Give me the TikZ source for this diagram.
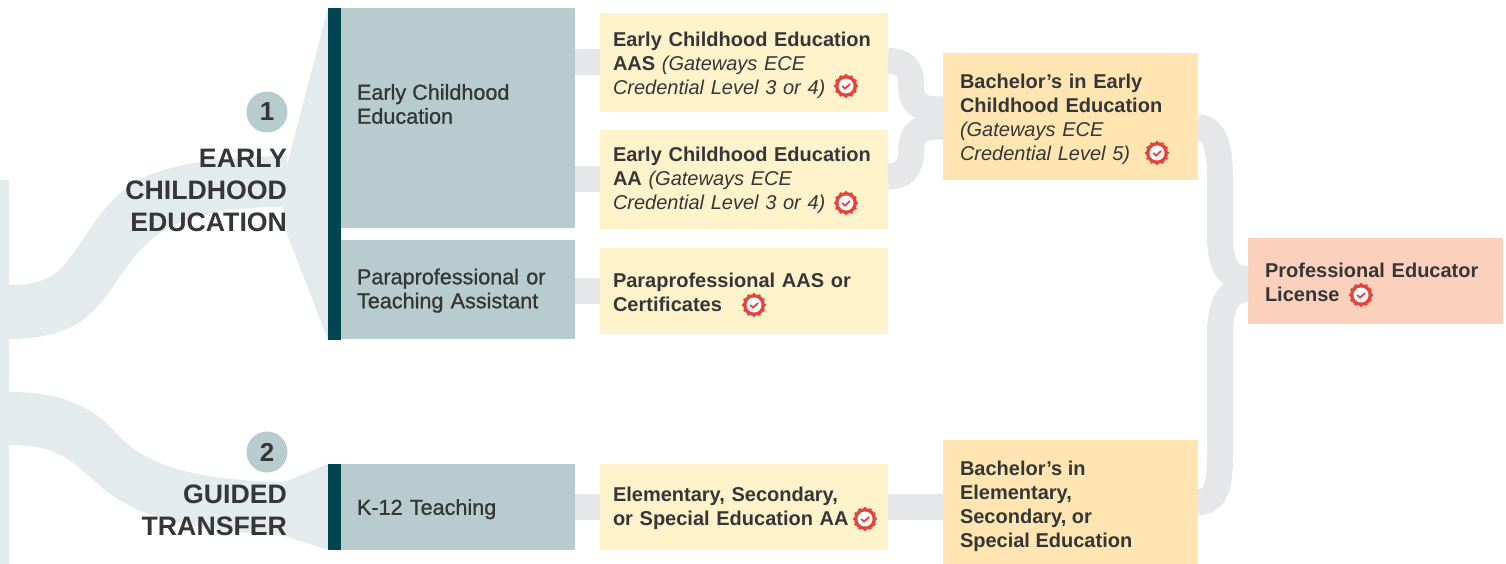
\documentclass[tikz,border=0pt]{standalone}
\usepackage{fontspec}
\setmainfont{Liberation Sans}
\newfontfamily\medfont[FakeBold=1.0]{Liberation Sans}
\newcommand{\upstrut}[1]{\rule{0pt}{#1}}
\definecolor{tealbox}{HTML}{B8CCD0}
\definecolor{tealbar}{HTML}{004550}
\definecolor{bandcol}{HTML}{E3EBED}
\definecolor{linkcol}{HTML}{E6E7E9}
\definecolor{aabox}{HTML}{FFF3CC}
\definecolor{babox}{HTML}{FEE5B2}
\definecolor{licbox}{HTML}{FBD0BC}
\definecolor{inkcol}{HTML}{353638}
\definecolor{badgecol}{HTML}{E5433A}
\tikzset{
    badge/.pic={
        \fill[badgecol] (0,0) circle (11);
        \foreach \a in {0,30,...,330} {\fill[badgecol] (\a:11) circle (1.4);}
        \fill[white] (0,0) circle (7.5);
        \draw[badgecol, line width=1.8pt] (-3.8,0) -- (-1,2.6) -- (4,-2);
    }
}
\begin{document}
\begin{tikzpicture}[
    x=1pt, y=-1pt,
    every node/.style={inner sep=0pt, outer sep=0pt, text=inkcol},
    bar/.style={anchor=north west, fill=tealbar, minimum width=13pt},
    path box/.style={anchor=north west, fill=tealbox, minimum width=234pt, text width=202pt, align=left,
        font=\fontsize{21.6}{24}\selectfont\medfont},
    aa box/.style={anchor=north west, fill=aabox, minimum width=288pt, text width=262pt, align=left,
        font=\fontsize{20}{24}\selectfont},
    ba box/.style={anchor=north west, fill=babox, minimum width=255pt, text width=221pt, align=left,
        font=\fontsize{20}{24}\selectfont},
    lic box/.style={anchor=north west, fill=licbox, minimum width=255pt, text width=221pt, align=left,
        font=\fontsize{20}{24}\selectfont},
    btext/.style={anchor=west, align=left, font=\fontsize{20}{24}\selectfont},
    ptext/.style={anchor=west, align=left, font=\fontsize{21.6}{24}\selectfont\medfont},
    title/.style={anchor=east, align=right, font=\fontsize{26.7}{32}\selectfont\bfseries},
    num/.style={circle, fill=tealbox, minimum size=41pt, font=\fontsize{26}{30}\selectfont\bfseries},
    link/.style={draw=linkcol, line width=26pt}
]
\useasboundingbox (0,0) rectangle (1506,564);
% light bands on the left
\fill[bandcol] (0,180) rectangle (9,564);
\fill[bandcol] (9,285) .. controls (40,285) and (55,278) .. (70,258)
    .. controls (90,232) and (100,205) .. (135,182)
    .. controls (170,162) and (230,156) .. (287,156)
    -- (287,165) -- (328,8) -- (328,340) -- (287,234) -- (283,207)
    .. controls (220,207) and (175,217) .. (145,245)
    .. controls (120,270) and (110,300) .. (80,322)
    .. controls (60,335) and (35,339) .. (9,339) -- cycle;
\fill[bandcol] (9,392) .. controls (60,392) and (90,405) .. (115,432)
    .. controls (145,465) and (190,480) .. (285,482)
    -- (328,464) -- (328,550) -- (285,536)
    .. controls (210,530) and (150,525) .. (105,490)
    .. controls (70,460) and (60,445) .. (9,445) -- cycle;

% boxes
\node[bar, minimum height=332pt] (barA) at (328,8) {};
\node[bar, minimum height=86pt] (barB) at (328,464) {};
\node[path box, minimum height=220pt] (earlyBox) at (341,8) {};
\node[path box, minimum height=99pt] (paraBox) at (341,240) {\upstrut{18pt}Paraprofessional or\\Teaching Assistant};
\node[path box, minimum height=86pt] (k12Box) at (341,464) {\upstrut{20pt}K-12 Teaching};
\node[aa box, minimum height=99pt] (aasBox) at (600,13) {\upstrut{20pt}\textbf{Early Childhood Education}\\\textbf{AAS} \textit{(Gateways ECE}\\\textit{Credential Level 3 or 4)}};
\node[aa box, minimum height=99pt] (aaBox) at (600,130) {\upstrut{17pt}\textbf{Early Childhood Education}\\\textbf{AA} \textit{(Gateways ECE}\\\textit{Credential Level 3 or 4)}};
\node[aa box, minimum height=86pt] (certBox) at (600,248) {\upstrut{17pt}\textbf{Paraprofessional AAS or}\\\textbf{Certificates}};
\node[aa box, minimum height=86pt] (elemBox) at (600,464) {\upstrut{17pt}\textbf{Elementary, Secondary,}\\\textbf{or Special Education AA}};
\node[ba box, minimum height=127pt] (baA) at (943,53) {\upstrut{20pt}\textbf{Bachelor’s in Early}\\\textbf{Childhood Education}\\\textit{(Gateways ECE}\\\textit{Credential Level 5)}};
\node[ba box, minimum height=124pt] (baB) at (943,440) {};
\node[lic box, minimum height=86pt] (licBox) at (1248,238) {\upstrut{18pt}\textbf{Professional Educator}\\\textbf{License}};
\node[ptext] (earlyText) at (357,104) {Early Childhood\\Education};
\node[btext] (baBText) at (960,506) {\textbf{Bachelor’s in}\\\textbf{Elementary,}\\\textbf{Secondary, or}\\\textbf{Special Education}};

% titles
\node[num] (numA) at (267,112) {1};
\node[num] (numB) at (267,452) {2};
\node[title] (titleA) at (287,190) {EARLY\\CHILDHOOD\\EDUCATION};
\node[title] (titleB) at (287,510) {GUIDED\\TRANSFER};

% connectors
\draw[link] (aasBox.west -| earlyBox.east) -- (aasBox.west);
\draw[link] (aaBox.west -| earlyBox.east) -- (aaBox.west);
\draw[link] (certBox.west -| paraBox.east) -- (certBox.west);
\draw[link] (elemBox.west -| k12Box.east) -- (elemBox.west);
\draw[link] (elemBox.east) -- (elemBox.east -| baB.west);
\draw[link] ([yshift=1.5pt]aasBox.east) .. controls +(16,0) and +(0,-16) .. (911,84)
    .. controls +(0,22) and +(-22,0) .. ([yshift=7pt]baA.west);
\draw[link] ([yshift=3pt]aaBox.east) .. controls +(16,0) and +(0,16) .. (911,152)
    .. controls +(0,-22) and +(-22,0) .. ([yshift=-10pt]baA.west);
\draw[link] ([yshift=-11pt]baA.east) .. controls +(18,0) and +(0,-30) .. (1220,180)
    -- (1220,235) .. controls +(0,30) and +(-20,0) .. ([yshift=2pt]licBox.west);
\draw[link] (baB.east |- 0,502) .. controls +(18,0) and +(0,30) .. (1220,455)
    -- (1220,335) .. controls +(0,-30) and +(-20,0) .. ([yshift=-8pt]licBox.west);

% badges
\pic at (846,86) {badge};
\pic at (846,203) {badge};
\pic at (754,305) {badge};
\pic at (865,519) {badge};
\pic at (1157,153) {badge};
\pic at (1361,295) {badge};
\end{tikzpicture}
\end{document}
